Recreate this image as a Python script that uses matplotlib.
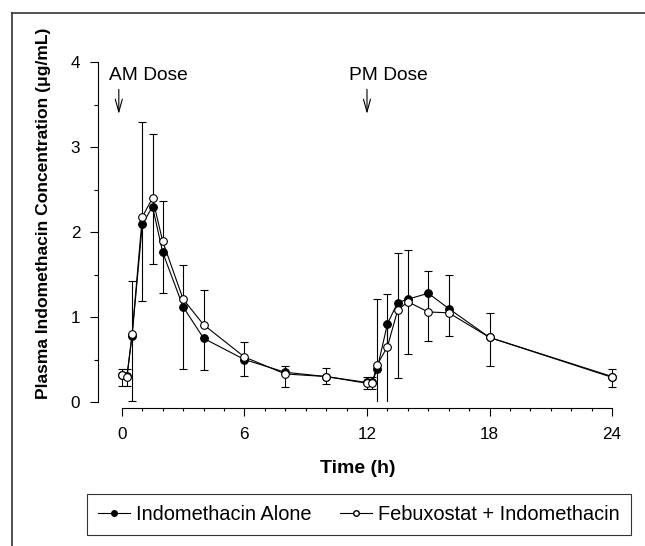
import numpy as np
import matplotlib
matplotlib.use('Agg')
import matplotlib.pyplot as plt
from matplotlib.lines import Line2D
from matplotlib.patches import Rectangle

plt.rcParams['font.family'] = ['Liberation Sans', 'DejaVu Sans']

# time points (h)
time_h = [0, 0.25, 0.5, 1, 1.5, 2, 3, 4, 6, 8, 10, 12, 12.25, 12.5, 13, 13.5, 14, 15, 16, 18, 24]

# mean plasma indomethacin concentration (ug/mL)
indo_alone = [0.32, 0.31, 0.78, 2.09, 2.30, 1.76, 1.12, 0.75, 0.50, 0.35, 0.30,
              0.23, 0.23, 0.39, 0.92, 1.17, 1.21, 1.28, 1.10, 0.76, 0.30]
febux_indo = [0.32, 0.30, 0.80, 2.18, 2.40, 1.89, 1.21, 0.91, 0.53, 0.33, 0.30,
              0.22, 0.22, 0.44, 0.65, 1.08, 1.18, 1.06, 1.05, 0.76, 0.29]

# SD: shown downward for indomethacin alone, upward for the combination
sd_alone = [0.13, 0.12, 0.77, 0.90, 0.68, 0.48, 0.73, 0.37, 0.19, 0.17, 0.09,
            0.08, 0.08, 0.55, 1.05, 0.89, 0.64, 0.56, 0.32, 0.34, 0.12]
sd_febux = [0.07, 0.09, 0.63, 1.12, 0.76, 0.48, 0.40, 0.41, 0.18, 0.09, 0.10,
            0.07, 0.07, 0.77, 0.62, 0.67, 0.61, 0.48, 0.44, 0.29, 0.10]

labels = ['Indomethacin Alone', 'Febuxostat + Indomethacin']

fig = plt.figure(figsize=(6.45, 5.46), dpi=100)
ax = fig.add_axes([0.1519, 0.252, 0.8066, 0.642])

zeros = np.zeros(len(time_h))
eb1 = ax.errorbar(time_h, indo_alone, yerr=[sd_alone, zeros], fmt='none',
                  ecolor='black', elinewidth=0.8, capsize=3, capthick=0.8, zorder=2)
eb2 = ax.errorbar(time_h, febux_indo, yerr=[zeros, sd_febux], fmt='none',
                  ecolor='black', elinewidth=0.8, capsize=3, capthick=0.8, zorder=2)

# bars are cut at zero like in the original
clip = Rectangle((-2, 0), 30, 5, transform=ax.transData, visible=False)
ax.add_patch(clip)
for eb in (eb1, eb2):
    for art in eb.lines[1] + eb.lines[2]:
        art.set_clip_path(clip)

ax.plot(time_h, indo_alone, '-o', color='black', lw=0.8, ms=5.5,
        mfc='black', mec='black', mew=0.8, zorder=3)
ax.plot(time_h, febux_indo, '-o', color='black', lw=0.8, ms=5.5,
        mfc='white', mec='black', mew=0.8, zorder=4)

ax.set_xlim(-1.17, 24.3)
ax.set_ylim(-0.075, 4.05)

for s in ['top', 'right']:
    ax.spines[s].set_visible(False)
ax.spines['left'].set_bounds(0, 4)
ax.spines['bottom'].set_bounds(0, 24)
ax.spines['left'].set_linewidth(0.8)
ax.spines['bottom'].set_linewidth(0.8)

ax.set_xticks(np.arange(0, 25, 6))
ax.set_xticks(np.arange(0, 25, 1), minor=True)
ax.set_yticks(np.arange(0, 5, 1))
ax.set_yticks(np.arange(0, 4.01, 0.5), minor=True)
ax.tick_params(axis='x', which='major', length=5.4, width=0.8, labelsize=12.3, pad=8)
ax.tick_params(axis='x', which='minor', length=2.4, width=0.8)
ax.tick_params(axis='y', which='major', length=5.8, width=0.8, labelsize=12.3, pad=7)
ax.tick_params(axis='y', which='minor', length=2.9, width=0.8)

ax.set_xlabel('Time (h)', fontsize=14, fontweight='bold', labelpad=13)
ax.set_ylabel('Plasma Indomethacin Concentration (\u03bcg/mL)', fontsize=12.6,
              fontweight='bold')
ax.yaxis.set_label_coords(-0.091, 0.557)

# dose arrows
for x_arr, x_txt, txt in [(-0.15, -0.64, 'AM Dose'), (12.0, 11.14, 'PM Dose')]:
    ax.text(x_txt, 3.79, txt, fontsize=13.8, ha='left', va='baseline')
    ax.annotate('', xy=(x_arr, 3.39), xytext=(x_arr, 3.68),
                arrowprops=dict(arrowstyle='->,head_length=0.65,head_width=0.18',
                                lw=0.8, color='black', shrinkA=0, shrinkB=0,
                                mutation_scale=14))

handles = [
    Line2D([], [], color='black', lw=0.8, marker='o', ms=4, mfc='black', mec='black'),
    Line2D([], [], color='black', lw=0.8, marker='o', ms=4, mfc='white', mec='black'),
]
leg = fig.legend(handles, labels, ncol=2, loc='center',
                 bbox_to_anchor=(0.5566, 0.0586), fontsize=14.4, frameon=True,
                 fancybox=False, edgecolor='black', handlelength=1.6,
                 handletextpad=0.3, columnspacing=1.45, borderpad=0.55)
leg.get_frame().set_linewidth(0.8)

# frame round the figure (top and left edges visible)
fig.add_artist(Line2D([12 / 645, 1.0], [1 - 13 / 546, 1 - 13 / 546],
                      transform=fig.transFigure, color='#333333', lw=1.2))
fig.add_artist(Line2D([12 / 645, 12 / 645], [0.0, 1 - 13 / 546],
                      transform=fig.transFigure, color='#333333', lw=1.2))

fig.savefig('out.png', dpi=100)
